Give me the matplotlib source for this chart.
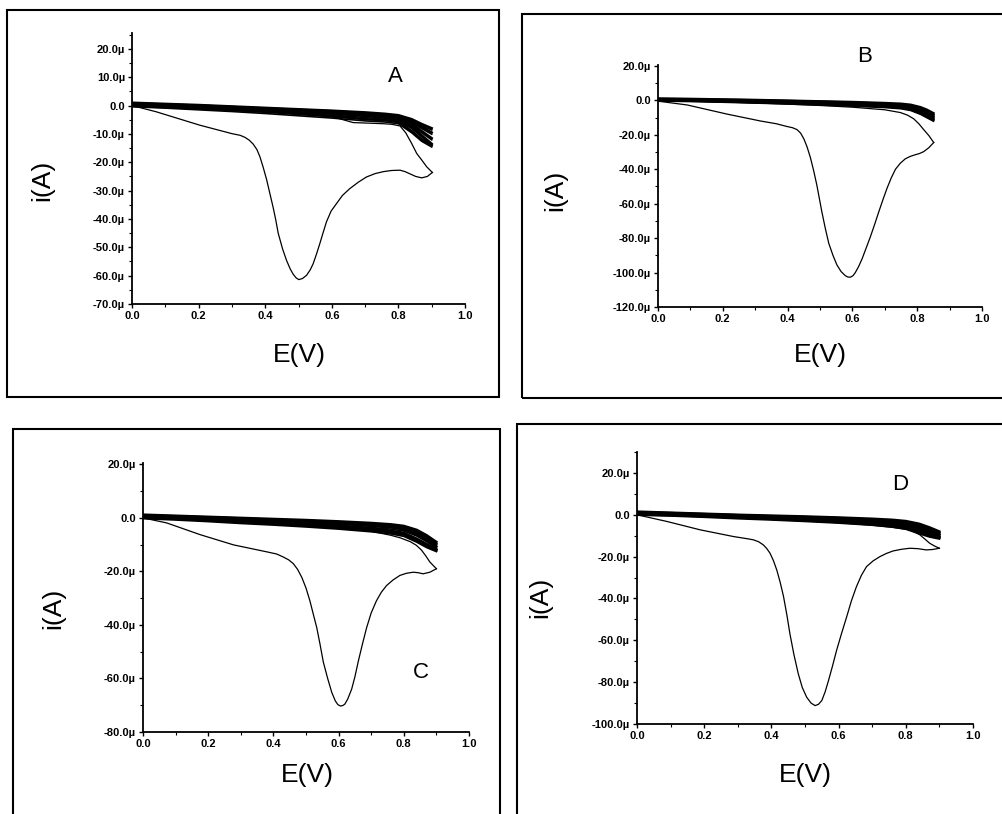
"""Four cyclic voltammograms (panels A-D), each in its own frame."""
import matplotlib
matplotlib.use("Agg")
import matplotlib.pyplot as plt
from matplotlib.patches import Rectangle
from matplotlib.ticker import FuncFormatter, MultipleLocator

plt.rcParams['font.family'] = ['Liberation Sans', 'DejaVu Sans']

# ---- panel A (first sweep, its return, later cycles) ----
A_first_E = [0.0, 0.0, 0.073, 0.203, 0.30, 0.325, 0.339, 0.352, 0.364, 0.375, 0.384,
             0.394, 0.404, 0.414, 0.424, 0.432, 0.439, 0.452, 0.464, 0.475, 0.484,
             0.493, 0.501, 0.512, 0.524, 0.535, 0.544, 0.554, 0.564, 0.574, 0.584,
             0.598, 0.614, 0.632, 0.654, 0.68, 0.704, 0.73, 0.755, 0.78, 0.805,
             0.82, 0.835, 0.852, 0.87, 0.887, 0.902]
A_first_i = [2.0, 0.0, -2.2, -6.9, -9.9, -10.5, -11.2, -12.2, -13.6, -15.5, -18.0,
             -21.8, -26.0, -31.0, -36.0, -40.5, -45.0, -50.5, -54.6, -57.6, -59.5,
             -60.8, -61.4, -61.0, -59.9, -58.0, -55.8, -52.4, -48.7, -44.8, -41.0,
             -37.2, -34.6, -31.7, -29.3, -27.0, -25.2, -24.0, -23.3, -22.9, -22.8,
             -23.3, -24.1, -25.0, -25.5, -25.0, -23.6]
A_back_E = [0.902, 0.885, 0.87, 0.855, 0.84, 0.822, 0.805, 0.78, 0.755, 0.71, 0.664,
            0.604, 0.504, 0.3, 0.1, 0.0]
A_back_i = [-23.6, -21.6, -19.2, -16.9, -13.4, -9.6, -7.2, -6.6, -6.4, -6.2, -6.0,
            -4.0, -2.8, -1.5, -0.3, 0.5]
A_grid = [0.0, 0.1, 0.2, 0.3, 0.4, 0.5, 0.6, 0.7, 0.76, 0.8, 0.84, 0.87, 0.9]
A_cycles = [
    [1.0, 0.6, 0.2, -0.3, -0.8, -1.3, -1.8, -2.4, -2.9, -3.4, -4.8, -6.5, -8.0],
    [0.8, 0.4, 0.0, -0.5, -1.0, -1.5, -2.0, -2.7, -3.2, -3.8, -5.5, -7.5, -9.5],
    [0.5, 0.1, -0.3, -0.8, -1.3, -1.8, -2.4, -3.1, -3.8, -4.5, -6.5, -9.0, -11.5],
    [0.3, -0.1, -0.6, -1.1, -1.6, -2.2, -2.8, -3.6, -4.3, -5.0, -7.5, -10.5, -13.5],
    [0.2, -0.3, -0.9, -1.5, -2.2, -3.0, -3.8, -4.8, -5.2, -5.8, -9.0, -12.0, -14.0],
]

# ---- panel B ----
B_first_E = [0.0, 0.09, 0.213, 0.316, 0.365, 0.398, 0.415, 0.429, 0.44, 0.45, 0.46,
             0.47, 0.48, 0.49, 0.498, 0.506, 0.516, 0.527, 0.54, 0.552, 0.565,
             0.578, 0.586, 0.594, 0.602, 0.609, 0.619, 0.63, 0.642, 0.655, 0.668,
             0.681, 0.694, 0.707, 0.72, 0.733, 0.748, 0.763, 0.778, 0.794, 0.807,
             0.82, 0.836, 0.851]
B_first_i = [-0.5, -2.7, -8.0, -12.0, -13.6, -15.2, -15.9, -17.0, -19.0, -22.3, -27.0,
             -33.0, -40.5, -49.0, -57.0, -65.0, -74.0, -83.0, -90.0, -95.5, -99.4,
             -101.8, -102.6, -102.7, -101.8, -100.0, -96.6, -92.0, -86.0, -79.5, -72.4,
             -65.0, -57.8, -51.0, -45.0, -40.0, -36.5, -34.0, -32.6, -31.6, -30.9,
             -29.8, -27.5, -24.5]
B_back_E = [0.851, 0.836, 0.82, 0.805, 0.789, 0.77, 0.748, 0.7, 0.6, 0.5, 0.3, 0.1, 0.0]
B_back_i = [-24.5, -20.5, -17.0, -13.6, -10.7, -8.6, -7.1, -5.5, -4.0, -3.0, -1.5, -0.5, 0.0]
B_grid = [0.0, 0.1, 0.2, 0.3, 0.4, 0.5, 0.6, 0.7, 0.75, 0.78, 0.81, 0.83, 0.85]
B_cycles = [
    [1.0, 0.8, 0.5, 0.2, -0.2, -0.6, -1.0, -1.6, -2.0, -2.6, -4.0, -5.5, -7.5],
    [0.8, 0.6, 0.3, 0.0, -0.4, -0.8, -1.3, -2.0, -2.5, -3.2, -4.8, -6.5, -8.5],
    [0.6, 0.4, 0.0, -0.3, -0.7, -1.2, -1.7, -2.5, -3.0, -3.8, -5.6, -7.5, -9.5],
    [0.4, 0.1, -0.3, -0.7, -1.1, -1.6, -2.2, -3.0, -3.6, -4.5, -6.5, -8.5, -10.5],
    [0.2, -0.1, -0.5, -1.0, -1.5, -2.1, -2.8, -3.6, -4.3, -5.3, -7.5, -9.5, -11.5],
]

# ---- panel C ----
C_first_E = [0.0, 0.073, 0.176, 0.278, 0.38, 0.41, 0.43, 0.447, 0.461, 0.474, 0.487,
             0.5, 0.512, 0.522, 0.533, 0.543, 0.553, 0.566, 0.579, 0.59, 0.598,
             0.606, 0.613, 0.619, 0.628, 0.64, 0.65, 0.66, 0.673, 0.686, 0.7,
             0.716, 0.731, 0.747, 0.767, 0.788, 0.808, 0.829, 0.845, 0.859, 0.88,
             0.9]
C_first_i = [0.0, -1.9, -6.3, -10.1, -12.7, -13.5, -14.6, -15.7, -17.1, -19.2, -22.2,
             -26.2, -31.0, -35.8, -41.0, -47.2, -53.8, -59.8, -65.2, -68.4, -69.8,
             -70.3, -70.1, -69.6, -67.7, -64.0, -59.4, -53.8, -47.2, -41.0, -35.5,
             -31.0, -27.8, -25.3, -23.2, -21.5, -20.7, -20.3, -20.5, -20.9, -20.3,
             -19.0]
C_back_E = [0.9, 0.88, 0.868, 0.854, 0.838, 0.82, 0.79, 0.76, 0.7, 0.6, 0.5, 0.3, 0.1, 0.0]
C_back_i = [-19.0, -16.5, -14.3, -12.0, -10.2, -8.9, -7.5, -6.5, -5.0, -4.0, -3.0, -1.8, -0.5, 0.3]
C_grid = [0.0, 0.1, 0.2, 0.3, 0.4, 0.5, 0.6, 0.7, 0.76, 0.8, 0.84, 0.87, 0.9]
C_cycles = [
    [1.2, 0.8, 0.4, 0.0, -0.4, -0.8, -1.3, -1.9, -2.4, -3.0, -4.5, -6.5, -9.0],
    [1.0, 0.6, 0.2, -0.2, -0.7, -1.1, -1.6, -2.3, -2.8, -3.5, -5.2, -7.2, -9.8],
    [0.8, 0.4, -0.1, -0.6, -1.1, -1.6, -2.2, -3.0, -3.6, -4.3, -6.2, -8.3, -10.8],
    [0.5, 0.1, -0.5, -1.1, -1.7, -2.3, -3.0, -4.0, -4.8, -5.6, -7.8, -9.8, -11.8],
    [0.3, -0.2, -0.8, -1.5, -2.1, -2.8, -3.6, -4.6, -5.4, -6.3, -8.5, -10.5, -12.0],
]

# ---- panel D ----
D_first_E = [0.0, 0.089, 0.188, 0.287, 0.33, 0.347, 0.362, 0.376, 0.386, 0.396, 0.406,
             0.416, 0.426, 0.436, 0.446, 0.455, 0.467, 0.48, 0.492, 0.505, 0.518,
             0.53, 0.54, 0.55, 0.56, 0.57, 0.582, 0.594, 0.609, 0.624, 0.638,
             0.653, 0.668, 0.683, 0.703, 0.723, 0.742, 0.762, 0.787, 0.812, 0.836,
             0.861, 0.88, 0.9]
D_first_i = [0.0, -3.2, -7.2, -10.4, -11.5, -12.0, -12.9, -14.4, -16.1, -18.4, -21.9,
             -26.4, -32.2, -39.0, -47.8, -56.8, -66.8, -76.0, -82.6, -87.2, -90.0,
             -91.2, -90.6, -88.8, -84.6, -79.2, -72.2, -64.8, -56.6, -48.8, -41.2,
             -34.4, -28.9, -24.8, -22.0, -20.0, -18.5, -17.3, -16.5, -16.0, -16.2,
             -16.8, -16.6, -16.0]
D_back_E = [0.9, 0.885, 0.871, 0.856, 0.842, 0.826, 0.812, 0.76, 0.7, 0.6, 0.5, 0.3, 0.1, 0.0]
D_back_i = [-16.0, -14.9, -13.6, -11.5, -9.6, -8.2, -7.2, -6.0, -5.0, -3.8, -3.0, -1.5, -0.3, 0.5]
D_grid = [0.0, 0.1, 0.2, 0.3, 0.4, 0.5, 0.6, 0.7, 0.76, 0.8, 0.84, 0.87, 0.9]
D_cycles = [
    [1.5, 1.0, 0.5, 0.0, -0.4, -0.8, -1.3, -1.9, -2.4, -3.0, -4.3, -6.0, -8.0],
    [1.2, 0.8, 0.3, -0.2, -0.7, -1.1, -1.6, -2.3, -2.9, -3.6, -5.0, -6.8, -8.8],
    [0.9, 0.5, 0.0, -0.5, -1.0, -1.5, -2.1, -2.9, -3.6, -4.4, -6.0, -7.8, -9.6],
    [0.6, 0.2, -0.3, -0.9, -1.5, -2.1, -2.8, -3.7, -4.5, -5.4, -7.3, -9.0, -10.5],
    [0.4, 0.0, -0.6, -1.3, -1.9, -2.6, -3.4, -4.4, -5.3, -6.3, -8.5, -10.0, -11.0],
]

W, H = 1003, 814


def fx(px):
    return px / W


def fy(py):
    return 1 - py / H


def micro(v, pos):
    if abs(v) < 1e-9:
        return "0.0"
    return "{0:.1f}\u00b5".format(v)


panels = [
    # name, data, axes box (px: left, top, right, bottom), ylim, ystep, letter pos, E(V) pos, i(A) pos, frame
    ("A", A_first_E, A_first_i, A_back_E, A_back_i, A_grid, A_cycles,
     (132, 33, 465, 304), (-70, 25.6), 10, (395, 77), (299, 355), (42, 180), (7, 10, 499, 397)),
    ("B", B_first_E, B_first_i, B_back_E, B_back_i, B_grid, B_cycles,
     (658, 65, 982, 307), (-120, 20.5), 20, (865, 57), (820, 355), (555, 190), (522, 14, 1010, 398)),
    ("C", C_first_E, C_first_i, C_back_E, C_back_i, C_grid, C_cycles,
     (143, 463, 469, 732), (-80, 20.5), 20, (421, 672), (307, 775), (53, 608), (13, 429, 500, 830)),
    ("D", D_first_E, D_first_i, D_back_E, D_back_i, D_grid, D_cycles,
     (637, 452, 973, 724), (-100, 30), 20, (900, 485), (805, 775), (540, 597), (517, 424, 1010, 830)),
]

fig = plt.figure(figsize=(W / 100, H / 100), dpi=100)

for (name, fE, fi, bE, bi, grid, cycles, box, ylim, ystep,
     letter_pos, xl_pos, yl_pos, frame) in panels:
    l, t, r, b = box
    ax = fig.add_axes([fx(l), fy(b), fx(r) - fx(l), (b - t) / H])
    for row in cycles:
        ax.plot(grid, row, color='black', lw=1.8)
        ax.plot(grid[::-1], [v - 0.6 for v in row[::-1]], color='black', lw=1.2)
    ax.plot(fE, fi, color='black', lw=0.9)
    ax.plot(bE, bi, color='black', lw=0.9)

    ax.set_xlim(0, 1.0)
    ax.set_ylim(*ylim)
    ax.spines['top'].set_visible(False)
    ax.spines['right'].set_visible(False)
    ax.spines['left'].set_linewidth(1.3)
    ax.spines['bottom'].set_linewidth(1.3)
    ax.xaxis.set_major_locator(MultipleLocator(0.2))
    ax.xaxis.set_minor_locator(MultipleLocator(0.1))
    ax.yaxis.set_major_locator(MultipleLocator(ystep))
    ax.yaxis.set_minor_locator(MultipleLocator(ystep / 2))
    ax.xaxis.set_major_formatter(FuncFormatter(lambda v, p: "{0:.1f}".format(v)))
    ax.yaxis.set_major_formatter(FuncFormatter(micro))
    ax.tick_params(which='major', direction='out', length=3, width=1, labelsize=8, pad=2)
    ax.tick_params(which='minor', direction='out', length=2, width=0.8)
    for lab in ax.get_xticklabels() + ax.get_yticklabels():
        lab.set_fontweight('bold')
    ax.set_facecolor('none')

    fig.text(fx(letter_pos[0]), fy(letter_pos[1]), name, fontsize=16,
             ha='center', va='center')
    fig.text(fx(xl_pos[0]), fy(xl_pos[1]), "E(V)", fontsize=19,
             ha='center', va='center')
    fig.text(fx(yl_pos[0]), fy(yl_pos[1]), "i(A)", fontsize=19, rotation=90,
             ha='center', va='center')

    fl, ft, fr, fb = frame
    fig.add_artist(Rectangle((fx(fl), fy(fb)), fx(fr) - fx(fl), (fb - ft) / H,
                             transform=fig.transFigure, fill=False,
                             edgecolor='black', lw=1.5))

fig.savefig("out.png", dpi=100)
